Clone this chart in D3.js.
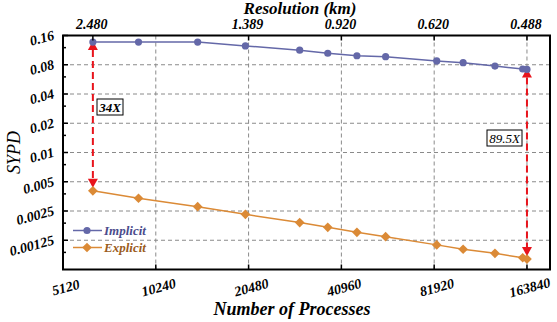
<!DOCTYPE html>
<html>
<head>
<meta charset="utf-8">
<script src="https://cdn.jsdelivr.net/npm/d3@7.9.0/dist/d3.min.js"></script>
<style>
  body { margin: 0; background: #fff; }
</style>
</head>
<body>
<svg id="chart" width="557" height="322" font-family="'Liberation Serif', 'Times New Roman', Times, serif"></svg>
<script>
// processes used for each run
const processes = [6400, 9000, 14000, 20000, 30000, 37000, 46000, 57000, 83500, 101700, 129000, 158700, 163840];
const implicitSypd = [0.137, 0.137, 0.137, 0.125, 0.113, 0.105, 0.099, 0.0968, 0.0875, 0.084, 0.0776, 0.0723, 0.0716];
const explicitSypd = [0.00403, 0.00338, 0.00277, 0.00231, 0.0019, 0.0017, 0.00151, 0.00136, 0.00112, 0.00101, 0.000917, 0.000826, 0.0008];

const xTicks = [5120, 10240, 20480, 40960, 81920, 163840];
const yTicks = [0.16, 0.08, 0.04, 0.02, 0.01, 0.005, 0.0025, 0.00125];
const yTickLabels = ['0.16', '0.08', '0.04', '0.02', '0.01', '0.005', '0.0025', '0.00125'];
const topTicks = [6400, 20480, 40960, 81920, 163840];
const topTickLabels = ['2.480', '1.389', '0.920', '0.620', '0.488'];
const speedups = [
  { label: '34X', idx: 0, bold: true },
  { label: '89.5X', idx: 12, bold: false },
];

const implicitColor = '#6468a8';
const explicitColor = '#db8a36';
const arrowColor = '#e8141c';
const serif = "'Liberation Serif', 'Times New Roman', Times, serif";

const svg = d3.select('#chart');
const L = 63, R = 550, T = 35.5, B = 269.5;

const x = d3.scaleLog().base(2).domain([5120, 194600]).range([L, R]);
const y = d3.scaleLog().base(2).domain([0.000625, 0.16]).range([B, T]);

// grid
const grid = svg.append('g').attr('stroke', '#8a8a8a').attr('stroke-dasharray', '4,3').attr('stroke-width', 1);
xTicks.slice(1).forEach((t) => {
  grid.append('line').attr('x1', x(t)).attr('x2', x(t)).attr('y1', T).attr('y2', B);
});
yTicks.slice(1).forEach((t) => {
  grid.append('line').attr('x1', L).attr('x2', R).attr('y1', y(t)).attr('y2', y(t));
});

// speedup arrows (behind the series)
const arrows = svg.append('g');
speedups.forEach((s) => {
  const ax = x(processes[s.idx]);
  const yTop = y(implicitSypd[s.idx]);
  const yBot = y(explicitSypd[s.idx]);
  arrows.append('line')
    .attr('x1', ax).attr('x2', ax)
    .attr('y1', yTop + 8).attr('y2', yBot - 10)
    .attr('stroke', arrowColor).attr('stroke-width', 2)
    .attr('stroke-dasharray', '7,4');
  arrows.append('path')
    .attr('d', `M${ax},${yTop - 1}L${ax - 5},${yTop + 8}L${ax + 5},${yTop + 8}Z`)
    .attr('fill', arrowColor);
  arrows.append('path')
    .attr('d', `M${ax},${yBot - 3}L${ax - 5},${yBot - 12}L${ax + 5},${yBot - 12}Z`)
    .attr('fill', arrowColor);
});

// series
const line = d3.line().x((d) => x(d[0])).y((d) => y(d[1]));
const implicitData = processes.map((p, i) => [p, implicitSypd[i]]);
const explicitData = processes.map((p, i) => [p, explicitSypd[i]]);

svg.append('path').datum(implicitData).attr('d', line)
  .attr('fill', 'none').attr('stroke', implicitColor).attr('stroke-width', 1.5);
svg.append('path').datum(explicitData).attr('d', line)
  .attr('fill', 'none').attr('stroke', explicitColor).attr('stroke-width', 1.5);

const diamond = d3.symbol().type(d3.symbolDiamond2).size(60);
svg.append('g').selectAll('circle').data(implicitData).join('circle')
  .attr('cx', (d) => x(d[0])).attr('cy', (d) => y(d[1])).attr('r', 3.6)
  .attr('fill', implicitColor);
svg.append('g').selectAll('path').data(explicitData).join('path')
  .attr('d', diamond)
  .attr('transform', (d) => `translate(${x(d[0])},${y(d[1])})`)
  .attr('fill', explicitColor);

// speedup boxes
const boxPos = [
  { bx: 97, by: 99, w: 26, h: 16 },
  { bx: 487, by: 130, w: 35, h: 16 },
];
speedups.forEach((s, i) => {
  const b = boxPos[i];
  svg.append('rect').attr('x', b.bx).attr('y', b.by).attr('width', b.w).attr('height', b.h)
    .attr('fill', '#fff').attr('stroke', '#000').attr('stroke-width', 1);
  svg.append('text').attr('x', b.bx + b.w / 2).attr('y', b.by + 12.5)
    .attr('text-anchor', 'middle').attr('font-size', 13).attr('font-family', serif)
    .attr('font-style', 'italic').attr('font-weight', s.bold ? 'bold' : 'normal')
    .text(s.label);
});

// frame
svg.append('rect').attr('x', L).attr('y', T).attr('width', R - L).attr('height', B - T)
  .attr('fill', 'none').attr('stroke', '#000').attr('stroke-width', 2);

// y ticks (major + minor at linear midpoints)
const ticks = svg.append('g').attr('stroke', '#000').attr('stroke-width', 1.5);
yTicks.forEach((t) => {
  ticks.append('line').attr('x1', L).attr('x2', L + 5).attr('y1', y(t)).attr('y2', y(t));
  const m = t * 0.75;
  ticks.append('line').attr('x1', L).attr('x2', L + 3).attr('y1', y(m)).attr('y2', y(m));
});
xTicks.forEach((t) => {
  ticks.append('line').attr('x1', x(t)).attr('x2', x(t)).attr('y1', B).attr('y2', B - 5);
});
topTicks.forEach((t) => {
  ticks.append('line').attr('x1', x(t)).attr('x2', x(t)).attr('y1', T).attr('y2', T + 5);
});

const labelSize = 14;

yTicks.forEach((t, i) => {
  svg.append('text')
    .attr('transform', `translate(55,${y(t) + 4}) rotate(-15)`)
    .attr('text-anchor', 'end').attr('font-size', labelSize).attr('font-family', serif)
    .attr('font-weight', 'bold').attr('font-style', 'italic')
    .text(yTickLabels[i]);
});

xTicks.forEach((t) => {
  svg.append('text')
    .attr('transform', `translate(${x(t) + 4},${292}) rotate(-15)`)
    .attr('text-anchor', 'middle').attr('font-size', labelSize).attr('font-family', serif)
    .attr('font-weight', 'bold').attr('font-style', 'italic')
    .text(t);
});

topTicks.forEach((t, i) => {
  svg.append('text')
    .attr('x', x(t) - 1).attr('y', 29)
    .attr('text-anchor', 'middle').attr('font-size', labelSize).attr('font-family', serif)
    .attr('font-weight', 'bold').attr('font-style', 'italic')
    .text(topTickLabels[i]);
});

// axis titles
svg.append('text').attr('x', 292).attr('y', 315).attr('text-anchor', 'middle')
  .attr('font-size', 18).attr('font-family', serif).attr('font-weight', 'bold').attr('font-style', 'italic')
  .text('Number of Processes');
svg.append('text').attr('x', 300).attr('y', 14).attr('text-anchor', 'middle')
  .attr('font-size', 17).attr('font-family', serif).attr('font-weight', 'bold').attr('font-style', 'italic')
  .text('Resolution (km)');
svg.append('text').attr('transform', `translate(20,${(T + B) / 2}) rotate(-90)`)
  .attr('text-anchor', 'middle').attr('font-size', 18).attr('font-family', serif).attr('font-style', 'italic')
  .text('SYPD');

// legend
const legend = [
  { name: 'Implicit', color: implicitColor, text: '#4a4c8c', y: 230.5, shape: 'circle' },
  { name: 'Explicit', color: explicitColor, text: '#9a5c1c', y: 247.5, shape: 'diamond' },
];
legend.forEach((d) => {
  svg.append('line').attr('x1', 73).attr('x2', 102).attr('y1', d.y).attr('y2', d.y)
    .attr('stroke', d.color).attr('stroke-width', 1.5);
  if (d.shape === 'circle') {
    svg.append('circle').attr('cx', 87).attr('cy', d.y).attr('r', 3.6).attr('fill', d.color);
  } else {
    svg.append('path').attr('d', diamond).attr('transform', `translate(87,${d.y})`).attr('fill', d.color);
  }
  svg.append('text').attr('x', 104).attr('y', d.y + 4.5)
    .attr('font-size', 13).attr('font-family', serif).attr('font-weight', 'bold').attr('font-style', 'italic')
    .attr('fill', d.text).text(d.name);
});
</script>
</body>
</html>
